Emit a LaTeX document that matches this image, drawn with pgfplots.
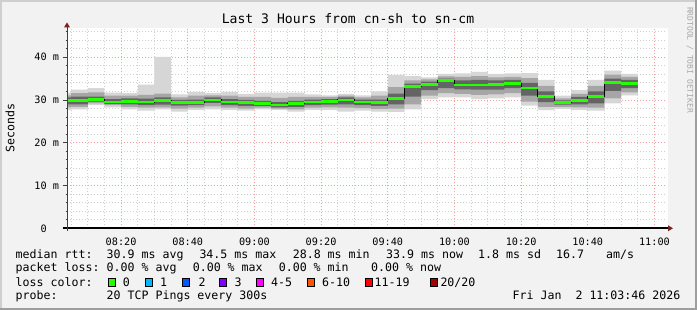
\documentclass[border=0pt]{standalone}
\usepackage{fontspec}
\setmainfont{DejaVu Sans Mono}
\usepackage{pgfplots}
\usepackage{pgfplotstable}
\pgfplotsset{compat=1.18}
\usepgfplotslibrary{fillbetween}
\definecolor{bgc}{HTML}{F2F2F2}
\definecolor{shadeA}{HTML}{CFCFCF}
\definecolor{shadeB}{HTML}{9E9E9E}
\definecolor{gridc}{HTML}{CFCFCF}
\definecolor{mgridc}{HTML}{F0A0A0}
\definecolor{arrowc}{HTML}{7F1F1F}
\definecolor{axisc}{HTML}{404040}
\definecolor{smokeA}{HTML}{D6D6D6}
\definecolor{smokeB}{HTML}{A6A6A6}
\definecolor{smokeC}{HTML}{646464}
\definecolor{lossA}{HTML}{26FF00}
\definecolor{lossB}{HTML}{00B8FF}
\definecolor{lossC}{HTML}{0059FF}
\definecolor{lossD}{HTML}{7E00FF}
\definecolor{lossE}{HTML}{FF00FF}
\definecolor{lossF}{HTML}{FF5500}
\definecolor{lossG}{HTML}{FF0000}
\definecolor{lossH}{HTML}{A10000}
\definecolor{wmark}{HTML}{A8A8A8}

% x = minutes after 08:00; values in ms
\pgfplotstableread{
x     lo1   lo2   lo3   med   hi3   hi2   hi1
3.77  27.7  28.3  29.0  29.9  30.6  31.1  31.7
5     27.8  28.4  29.0  29.9  30.8  31.6  32.4
10    28.8  29.2  29.6  30.1  30.8  31.8  32.8
15    28.3  28.8  29.1  29.5  30.2  31.0  31.7
20    27.8  28.4  29.0  29.7  30.4  31.0  31.6
25    27.5  28.2  28.8  29.5  30.3  31.2  33.6
30    27.8  28.3  28.9  29.8  30.6  31.5  40.1
35    27.3  28.0  28.7  29.4  30.0  30.6  31.3
40    27.7  28.2  28.8  29.4  30.1  31.0  31.9
45    27.8  28.5  29.3  30.0  30.6  31.1  31.6
50    27.7  28.2  28.8  29.5  30.2  31.0  31.9
55    27.5  28.0  28.6  29.4  30.0  30.7  31.4
60    27.8  28.2  28.6  29.1  29.8  30.7  31.7
65    27.7  28.0  28.3  28.8  29.5  30.5  31.7
70    27.3  27.8  28.4  29.1  29.8  30.7  31.7
75    27.7  28.2  28.8  29.5  30.1  30.7  31.3
80    27.7  28.3  28.9  29.6  30.2  30.7  31.1
85    27.3  28.2  29.0  30.0  30.6  31.0  31.4
90    27.5  28.1  28.8  29.5  30.1  30.6  31.1
95    27.3  27.9  28.6  29.4  30.1  31.0  32.0
100   27.2  28.0  29.0  30.3  31.5  33.0  35.85
105   27.8  29.0  30.8  33.1  33.8  34.6  35.6
110   30.2  31.0  32.3  33.7  34.3  34.8  35.3
115   30.6  31.6  32.8  34.5  35.0  35.5  36.1
120   30.6  31.4  32.5  33.5  34.6  35.4  36.2
125   30.2  31.2  32.4  33.5  34.7  35.6  36.55
130   30.4  31.3  32.4  33.6  34.6  35.3  36.1
135   30.6  31.6  32.8  33.8  34.7  35.4  36.2
140   28.7  29.6  31.0  32.8  34.0  35.1  36.3
145   27.6  28.4  29.5  30.8  32.0  33.3  34.7
150   27.9  28.4  28.9  29.4  29.9  30.4  31.0
155   27.7  28.3  29.0  29.9  30.7  31.4  32.3
160   27.5  28.2  29.2  30.8  32.0  33.3  34.7
165   29.2  30.4  32.1  34.1  35.0  35.9  36.85
170   31.1  31.8  32.8  33.9  34.7  35.4  36.1
175   31.1  31.8  32.8  33.9  34.7  35.4  36.1
}\smoke

\newcommand{\lgfont}{\fontsize{11.6}{13}\selectfont}

\begin{document}
\begin{tikzpicture}[x=1pt,y=1pt]
\begin{axis}[
  set layers,
  at={(67pt,81.7pt)}, anchor=south west,
  width=600pt, height=200.6pt, scale only axis,
  xmin=3.77, xmax=183.77, ymin=0, ymax=46.9,
  axis line style={draw=none},
  xtick={20,40,60,80,100,120,140,160,180},
  xticklabels={08:20,08:40,09:00,09:20,09:40,10:00,10:20,10:40,11:00},
  minor xtick={5,10,...,180},
  ytick={0,10,20,30,40},
  yticklabels={0\hphantom{~m},10~m,20~m,30~m,40~m},
  minor ytick={2,4,...,46},
  grid=both,
  major grid style={mgridc, line width=0.8pt, dash pattern=on 1pt off 2pt},
  minor grid style={gridc, line width=0.8pt, dash pattern=on 1pt off 2pt},
  tick align=outside,
  xtick style={draw=none},
  ytick style={axisc, line width=0.8pt},
  major tick length=4.3pt, minor tick length=1.5pt,
  ytick pos=left, xtick pos=bottom,
  tick label style={font=\fontsize{10.2}{12}\selectfont, inner sep=0pt},
  yticklabel style={anchor=east, xshift=-3.5pt},
  xticklabel style={anchor=base, yshift=-13pt},
  clip=false,
]
\begin{pgfonlayer}{axis background}
\fill[bgc] ([shift={(-67pt,-81.7pt)}]rel axis cs:0,0) rectangle ([shift={(630pt,228.3pt)}]rel axis cs:0,0);
\fill[shadeA] ([shift={(-67pt,-81.7pt)}]rel axis cs:0,0) rectangle ([shift={(-65pt,228.3pt)}]rel axis cs:0,0);
\fill[shadeA] ([shift={(-67pt,226.3pt)}]rel axis cs:0,0) rectangle ([shift={(630pt,228.3pt)}]rel axis cs:0,0);
\fill[shadeB] ([shift={(628pt,-81.7pt)}]rel axis cs:0,0) rectangle ([shift={(630pt,228.3pt)}]rel axis cs:0,0);
\fill[shadeB] ([shift={(-67pt,-81.7pt)}]rel axis cs:0,0) rectangle ([shift={(630pt,-79.7pt)}]rel axis cs:0,0);
\fill[white] ([shift={(0pt,0pt)}]rel axis cs:0,0) rectangle ([shift={(601pt,200.6pt)}]rel axis cs:0,0);
\end{pgfonlayer}
\addplot[draw=none, const plot, name path=lA, forget plot] table[x=x,y=lo1]{\smoke};
\addplot[draw=none, const plot, name path=hA, forget plot] table[x=x,y=hi1]{\smoke};
\addplot[draw=none, const plot, name path=lB, forget plot] table[x=x,y=lo2]{\smoke};
\addplot[draw=none, const plot, name path=hB, forget plot] table[x=x,y=hi2]{\smoke};
\addplot[draw=none, const plot, name path=lC, forget plot] table[x=x,y=lo3]{\smoke};
\addplot[draw=none, const plot, name path=hC, forget plot] table[x=x,y=hi3]{\smoke};
\addplot[fill=smokeA, draw=none, forget plot] fill between[of=lA and hA];
\addplot[fill=smokeB, draw=none, forget plot] fill between[of=lB and hB];
\addplot[fill=smokeC, draw=none, forget plot] fill between[of=lC and hC];
\addplot[const plot, black, line width=1pt, forget plot] table[x=x,y=med]{\smoke};
\addplot[jump mark left, lossA, line width=2.7pt, forget plot] table[x=x,y=med]{\smoke};
\end{axis}

% axes
\draw[black, line width=1.6pt] (62.7,81.7) -- (668,81.7);
\fill[arrowc] (668,78.7) -- (673,81.7) -- (668,84.7) -- cycle;
\draw[axisc, line width=1pt] (67,79) -- (67,283);
\fill[arrowc] (64,282.5) -- (67,287.5) -- (70,282.5) -- cycle;

% title and labels
\node[anchor=base, inner sep=0pt, font=\fontsize{13.1}{15}\selectfont] at (348,286) {Last 3 Hours from cn-sh to sn-cm};
\node[rotate=90, inner sep=0pt, font=\lgfont] at (10,182) {Seconds};
\node[rotate=-90, inner sep=0pt, text=wmark, font=\fontsize{8}{9}\selectfont] at (690,250) {RRDTOOL / TOBI OETIKER};

% legend
\begin{scope}[every node/.style={anchor=base west, inner sep=0pt, font=\lgfont}]
\node at (15.5,51.5) {median rtt:};
\node at (106.5,51.5) {30.9 ms avg};
\node at (199.3,51.5) {34.5 ms max};
\node at (292.6,51.5) {28.8 ms min};
\node at (386,51.5) {33.9 ms now};
\node at (478,51.5) {1.8 ms sd};
\node at (556,51.5) {16.7};
\node at (606,51.5) {am/s};
\node at (15.5,38.1) {packet loss:};
\node at (106.5,38.1) {0.00 \% avg};
\node at (192.6,38.1) {0.00 \% max};
\node at (278.6,38.1) {0.00 \% min};
\node at (371,38.1) {0.00 \% now};
\node at (15.5,23.5) {loss color:};
\node at (122.6,23.5) {0};
\node at (160,23.5) {1};
\node at (198.3,23.5) {2};
\node at (234.3,23.5) {3};
\node at (271,23.5) {4-5};
\node at (322,23.5) {6-10};
\node at (374.5,23.5) {11-19};
\node at (440.3,23.5) {20/20};
\node at (15.5,10.5) {probe:};
\node at (106.5,10.5) {20 TCP Pings every 300s};
\node[anchor=base east] at (680.5,10.5) {Fri Jan~~2 11:03:46 2026};
\end{scope}
\foreach \bx/\bc in {108.3/lossA,145.7/lossB,182.7/lossC,219.3/lossD,256.7/lossE,307.3/lossF,365/lossG,430.7/lossH}
  \filldraw[fill=\bc, draw=black, line width=0.9pt] (\bx,23.9) rectangle ++(7.2,7.2);
\end{tikzpicture}
\end{document}
